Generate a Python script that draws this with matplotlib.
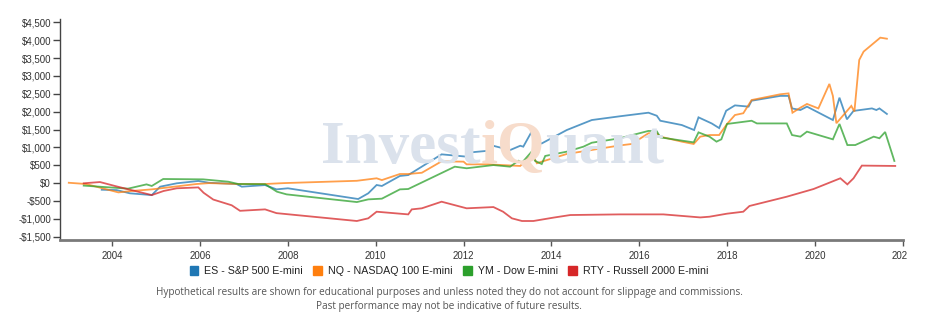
import matplotlib
matplotlib.use("Agg")
import matplotlib.pyplot as plt
from matplotlib.ticker import FuncFormatter, MultipleLocator
from matplotlib.transforms import Bbox, TransformedBbox
from matplotlib.patches import Patch

# ---------------- data (fractional years, dollars) ----------------
es_x = [2003.76, 2004.10, 2004.40, 2004.90, 2005.09, 2005.47, 2005.96, 2006.20, 2006.83, 2006.95,
        2007.48, 2007.74, 2008.00, 2009.60, 2009.83, 2010.02, 2010.14, 2010.55, 2010.74, 2011.50,
        2012.07, 2012.16, 2012.56, 2012.69, 2013.06, 2013.29, 2013.36, 2013.55, 2013.67, 2013.78,
        2014.35, 2014.92, 2015.56, 2016.21, 2016.40, 2016.48, 2016.97, 2017.25, 2017.35, 2017.65,
        2017.82, 2017.98, 2018.18, 2018.49, 2018.56, 2019.21, 2019.40, 2019.48, 2019.67, 2019.82,
        2020.41, 2020.56, 2020.73, 2020.88, 2021.30, 2021.40, 2021.47, 2021.64]
es_y = [-185, -195, -285, -335, -100, -5, 60, 10, -25, -100,
        -55, -175, -145, -445, -285, -53, -80, 200, 225, 805,
        740, 860, 905, 1040, 925, 1045, 1020, 1440, 1130, 1110,
        1485, 1765, 1870, 1970, 1885, 1745, 1625, 1485, 1840, 1670,
        1540, 2025, 2175, 2140, 2305, 2440, 2440, 2090, 2045, 2140,
        1765, 2390, 1785, 2020, 2090, 2045, 2090, 1935]

nq_x = [2003.01, 2003.40, 2004.14, 2004.44, 2004.90, 2005.92, 2006.20, 2006.90, 2007.48, 2007.90,
        2009.57, 2010.02, 2010.14, 2010.55, 2010.74, 2011.05, 2011.50, 2012.00, 2012.07, 2012.56,
        2013.29, 2013.51, 2013.57, 2013.67, 2013.78, 2014.35, 2015.56, 2015.83, 2016.21, 2016.40,
        2016.48, 2016.97, 2017.24, 2017.39, 2017.60, 2017.82, 2018.00, 2018.18, 2018.37, 2018.56,
        2019.21, 2019.40, 2019.49, 2019.67, 2019.82, 2020.08, 2020.33, 2020.41, 2020.49, 2020.83,
        2020.90, 2021.01, 2021.11, 2021.49, 2021.64]
nq_y = [10, -25, -260, -220, -175, -25, 0, -25, -25, 0,
        65, 135, 85, 255, 255, 290, 610, 600, 525, 525,
        480, 740, 785, 555, 600, 815, 1055, 1095, 1395, 1395,
        1300, 1160, 1095, 1300, 1345, 1345, 1655, 1905, 1955, 2325,
        2485, 2510, 1970, 2110, 2215, 2090, 2775, 2440, 1675, 2160,
        2000, 3445, 3680, 4070, 4040]

ym_x = [2003.35, 2004.36, 2004.78, 2004.90, 2005.16, 2006.07, 2006.64, 2006.87, 2007.48, 2007.75,
        2007.97, 2009.57, 2009.83, 2010.14, 2010.55, 2010.74, 2011.80, 2012.07, 2012.68, 2013.06,
        2013.25, 2013.33, 2013.55, 2013.63, 2013.78, 2013.86, 2014.35, 2014.73, 2014.92, 2015.56,
        2016.21, 2016.40, 2016.48, 2017.24, 2017.35, 2017.60, 2017.76, 2017.87, 2018.00, 2018.56,
        2018.68, 2019.36, 2019.48, 2019.67, 2019.82, 2020.41, 2020.56, 2020.74, 2020.92, 2021.34,
        2021.47, 2021.60, 2021.81]
ym_y = [-70, -155, -35, -80, 115, 105, 40, -25, -30, -240,
        -315, -530, -455, -435, -175, -165, 460, 415, 505, 460,
        625, 570, 880, 620, 535, 760, 880, 1020, 1130, 1255,
        1460, 1450, 1280, 1140, 1420, 1300, 1160, 1225, 1655, 1745,
        1670, 1670, 1345, 1300, 1440, 1225, 1655, 1065, 1065, 1300,
        1255, 1430, 620]

rty_x = [2003.35, 2003.72, 2004.06, 2004.37, 2004.90, 2005.17, 2005.47, 2005.96, 2006.08, 2006.30,
         2006.72, 2006.91, 2007.48, 2007.74, 2009.57, 2009.83, 2010.02, 2010.74, 2010.82, 2011.05,
         2011.50, 2012.07, 2012.68, 2012.90, 2013.10, 2013.33, 2013.59, 2014.05, 2014.43, 2015.56,
         2016.55, 2017.39, 2017.60, 2018.00, 2018.37, 2018.51, 2019.36, 2019.97, 2020.58, 2020.74,
         2020.88, 2021.07, 2021.83]
rty_y = [-5, 30, -80, -175, -335, -220, -145, -120, -270, -460,
         -620, -775, -735, -840, -1060, -985, -800, -875, -735, -705,
         -520, -705, -670, -800, -985, -1060, -1060, -965, -893, -875,
         -875, -960, -940, -855, -800, -640, -380, -165, 135, -35,
         135, 490, 480]

series_labels = ["ES - S&P 500 E-mini", "NQ - NASDAQ 100 E-mini", "YM - Dow E-mini", "RTY - Russell 2000 E-mini"]
x_tick_years = [2004, 2006, 2008, 2010, 2012, 2014, 2016, 2018, 2020, 2022]
footnote_lines = ["Hypothetical results are shown for educational purposes and unless noted they do not account for slippage and commissions.",
                  "Past performance may not be indicative of future results."]

colors = ["#1f77b4", "#ff7f0e", "#2ca02c", "#d62728"]

W, H = 941, 328
fig = plt.figure(figsize=(W / 100, H / 100), dpi=100)
ax = fig.add_axes([60 / W, (H - 240.3) / H, (902.7 - 60) / W, (240.3 - 18.7) / H])

# watermark
wm_font = dict(family="Liberation Serif", weight="bold", size=44)
t1 = fig.text(321 / W, (H - 163) / H, "Invest", color="#dbe2ec", va="baseline", ha="left", zorder=0, **wm_font)
t2 = fig.text(0, 0, "iQ", color="#f7dccb", zorder=0, **wm_font)
t3 = fig.text(0, 0, "uant", color="#dbe2ec", zorder=0, **wm_font)
ax.patch.set_alpha(0)

for xs, ys, c, lab in zip([es_x, nq_x, ym_x, rty_x], [es_y, nq_y, ym_y, rty_y], colors, series_labels):
    ax.plot(xs, ys, color=c, lw=1.3, alpha=0.75, label=lab, solid_joinstyle="miter")

ax.set_xlim(2002.81, 2022.0)
ax.set_ylim(-1600, 4600)
ax.yaxis.set_major_locator(MultipleLocator(500))
ax.yaxis.set_major_formatter(FuncFormatter(lambda v, p: ("-$" if v < 0 else "$") + f"{abs(int(round(v))):,}"))
ax.set_xticks(x_tick_years)
ax.set_xticklabels([str(y) for y in x_tick_years])

for s in ["top", "right"]:
    ax.spines[s].set_visible(False)
ax.spines["left"].set_color("#444444")
ax.spines["left"].set_linewidth(1.0)
ax.spines["bottom"].set_color("#7a7a7a")
ax.spines["bottom"].set_linewidth(2.0)
ax.tick_params(axis="y", length=5, width=1, color="#444444", labelsize=7, labelcolor="#333333", pad=1.5)
ax.tick_params(axis="x", length=4, width=1, color="#555555", labelsize=7, labelcolor="#333333", pad=4)
for lbl in ax.get_xticklabels() + ax.get_yticklabels():
    lbl.set_fontfamily("Liberation Sans")

# clip the last x tick label like the reference
clip = TransformedBbox(Bbox.from_extents(0, 0, 907 / W, 1), fig.transFigure)
for lbl in ax.get_xticklabels():
    lbl.set_clip_box(clip)
    lbl.set_clip_on(True)

handles = [Patch(facecolor=c, edgecolor=c) for c in colors]
fig.legend(handles, series_labels, loc="center", bbox_to_anchor=(449 / W, (H - 271) / H), ncol=4, frameon=False,
           handlelength=0.8, handleheight=0.95, handletextpad=0.55, columnspacing=1.0,
           prop={"family": "Liberation Sans", "size": 7.7}, labelcolor="#222222")

fig.text(449 / W, (H - 292) / H, footnote_lines[0], ha="center", va="center", fontsize=7.2,
         family="Open Sans", color="#555555")
fig.text(449 / W, (H - 307) / H, footnote_lines[1], ha="center", va="center", fontsize=7.2,
         family="Open Sans", color="#555555")

# position watermark pieces adjacently
fig.canvas.draw()
r = fig.canvas.get_renderer()
inv = fig.transFigure.inverted()
b1 = t1.get_window_extent(r)
x2 = inv.transform((b1.x1, 0))[0]
t2.set_position((x2, (H - 163) / H)); t2.set_va("baseline")
b2 = t2.get_window_extent(r)
x3 = inv.transform((b2.x1, 0))[0]
t3.set_position((x3, (H - 163) / H)); t3.set_va("baseline")

fig.savefig("out.png", dpi=100)
